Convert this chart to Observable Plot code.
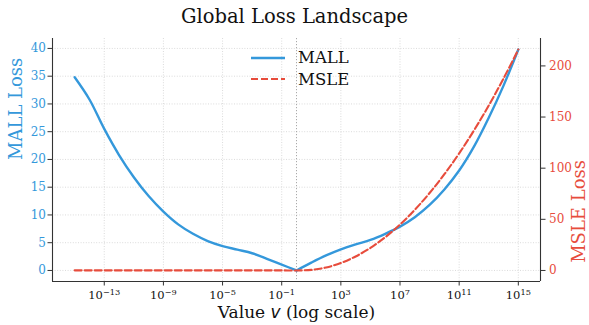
<!DOCTYPE html>
<html>
<head>
<meta charset="utf-8">
<script src="https://cdn.jsdelivr.net/npm/d3@7"></script>
<script src="https://cdn.jsdelivr.net/npm/@observablehq/plot@0.6"></script>
<style>
  html, body { margin: 0; padding: 0; background: #fff; }
  body { font-family: "DejaVu Serif", serif; }
  #wrap { position: relative; width: 589px; height: 325px; overflow: hidden; }
  #title { position: absolute; left: 0; top: 5px; width: 589px; text-align: center;
           font-size: 19.5px; line-height: 24px; color: #111; }
  #chart { position: absolute; left: 0; top: 30px; }
  #chart svg text { font-family: "DejaVu Serif", serif; }
  #legend { position: absolute; left: 250px; top: 47px; font-size: 16.5px; color: #111; }
  .lg-row { display: flex; align-items: center; height: 21.6px; }
  .lg-row svg { width: 36px; height: 10px; margin-right: 12px; }
</style>
</head>
<body>
<div id="wrap">
  <div id="title">Global Loss Landscape</div>
  <div id="chart"></div>
  <div id="legend"></div>
</div>
<script>
// ---- data ----
const exponents = [-15,-14,-13,-12,-11,-10,-9,-8,-7,-6,-5,-4,-3,-2,-1,0,1,2,3,4,5,6,7,8,9,10,11,12,13,14,15];
const mallLoss = [34.8,30.8,25.5,20.8,16.8,13.4,10.6,8.3,6.6,5.3,4.4,3.75,3.1,2.1,1.05,0,
                  1.4,2.7,3.8,4.7,5.5,6.6,7.9,9.6,11.8,14.6,18.0,22.3,27.5,33.3,39.8];
const msleLoss = [0.09,0.09,0.09,0.09,0.09,0.09,0.09,0.09,0.09,0.09,0.09,0.09,0.09,0.09,0.07,0,
                  0.55,2.9,7.3,13.7,22.1,32.5,44.9,59.3,75.7,94.1,114.5,136.9,161.3,187.7,216.0];
const xTickExponents = [-13,-9,-5,-1,3,7,11,15];
const mallTicks = [0,5,10,15,20,25,30,35,40];
const msleTicks = [0,50,100,150,200];
const seriesNames = ["MALL","MSLE"];
const seriesColors = ["#3498db","#e74c3c"];
const axisLabels = {x: "Value v (log scale)", left: "MALL Loss", right: "MSLE Loss"};

// ---- derived tables ----
const rows = exponents.map((e, i) => ({v: Math.pow(10, e), e, mall: mallLoss[i], msle: msleLoss[i]}));
const mallRows = rows.filter(d => d.e <= 0).map(d => ({...d, branch: "neg"}))
  .concat(rows.filter(d => d.e >= 0).map(d => ({...d, branch: "pos"})));
const mallMax = d3.max(mallLoss), msleMax = d3.max(msleLoss);
const factor = mallMax / msleMax;
const eMin = d3.min(exponents), eMax = d3.max(exponents), eSpan = eMax - eMin;
const xDomain = [Math.pow(10, eMin - 0.05 * eSpan), Math.pow(10, eMax + 0.05 * eSpan)];
const yDomain = [-0.05 * mallMax, 1.05 * mallMax];
const xTicks = xTickExponents.map(e => Math.pow(10, e));
const FF = "DejaVu Serif";

const chart = Plot.plot({
  width: 589, height: 295,
  marginTop: 8, marginBottom: 44, marginLeft: 52, marginRight: 49,
  style: {fontFamily: FF, fontSize: "12px", background: "white", color: "#222"},
  x: {type: "log", domain: xDomain},
  y: {domain: yDomain},
  marks: [
    Plot.gridX(xTicks, {stroke: "#d2d2d2", strokeOpacity: 1, strokeDasharray: "1,1.6", strokeWidth: 0.8}),
    Plot.gridY(mallTicks, {stroke: "#d2d2d2", strokeOpacity: 1, strokeDasharray: "1,1.6", strokeWidth: 0.8}),
    Plot.ruleX([1], {stroke: "#aaaaaa", strokeDasharray: "1.2,1.8", strokeWidth: 1}),
    Plot.line(mallRows, {x: "v", y: "mall", z: "branch", stroke: seriesColors[0], strokeWidth: 2.4, curve: "catmull-rom"}),
    Plot.line(rows, {x: "v", y: d => d.msle * factor, stroke: seriesColors[1], strokeWidth: 2.1, strokeDasharray: "7,3", curve: "catmull-rom"}),
    Plot.ruleX(xDomain, {stroke: "#333", strokeWidth: 1.1}),
    Plot.ruleY([yDomain[0]], {stroke: "#333", strokeWidth: 1.1}),
    Plot.axisX(xTicks, {anchor: "bottom", tickSize: 4.5, tickPadding: 5, stroke: "#333", fill: "#111",
      fontSize: 11.5, fontFamily: FF, tickFormat: d => "10^" + Math.round(Math.log10(d)), label: null}),
    Plot.axisY(mallTicks, {anchor: "left", tickSize: 4.5, tickPadding: 2, stroke: "#333", fill: seriesColors[0],
      fontSize: 12, fontFamily: FF, label: null}),
    Plot.axisY(msleTicks.map(d => d * factor), {anchor: "right", tickSize: 4.5, tickPadding: 4, stroke: "#333",
      fill: seriesColors[1], fontSize: 12, fontFamily: FF, tickFormat: d => String(Math.round(d / factor)), label: null}),
    Plot.text([axisLabels.left], {frameAnchor: "left", dx: -36, rotate: -90, fill: seriesColors[0], fontSize: 18, fontFamily: FF}),
    Plot.text([axisLabels.right], {frameAnchor: "right", dx: 39, rotate: -90, fill: seriesColors[1], fontSize: 18, fontFamily: FF}),
    Plot.text([axisLabels.x], {frameAnchor: "bottom", dy: 36, fontSize: 17, fill: "#111", fontFamily: FF})
  ]
});
document.getElementById("chart").appendChild(chart);

// superscript exponents and italic v
const NS = "http://www.w3.org/2000/svg";
chart.querySelectorAll("text").forEach(t => {
  const s = t.textContent;
  if (s.startsWith("10^")) {
    const exp = s.slice(3).replace("-", "\u2212");
    t.textContent = "10";
    const sup = document.createElementNS(NS, "tspan");
    sup.setAttribute("dy", "-4");
    sup.setAttribute("style", "font-size:8.2px");
    sup.textContent = exp;
    t.appendChild(sup);
  } else if (s === axisLabels.x) {
    t.textContent = "Value ";
    const v = document.createElementNS(NS, "tspan");
    v.setAttribute("style", "font-family:'DejaVu Sans';font-style:italic");
    v.textContent = "v";
    t.appendChild(v);
    t.appendChild(document.createTextNode(" (log scale)"));
  }
});

// legend
const legend = document.getElementById("legend");
seriesNames.forEach((name, i) => {
  const row = document.createElement("div");
  row.className = "lg-row";
  const dash = i === 1 ? 'stroke-dasharray="7,3"' : "";
  row.innerHTML = `<svg viewBox="0 0 36 10"><line x1="1" y1="5" x2="35" y2="5" stroke="${seriesColors[i]}" stroke-width="${i === 1 ? 2.1 : 2.4}" ${dash}/></svg><span>${name}</span>`;
  legend.appendChild(row);
});
</script>
</body>
</html>
